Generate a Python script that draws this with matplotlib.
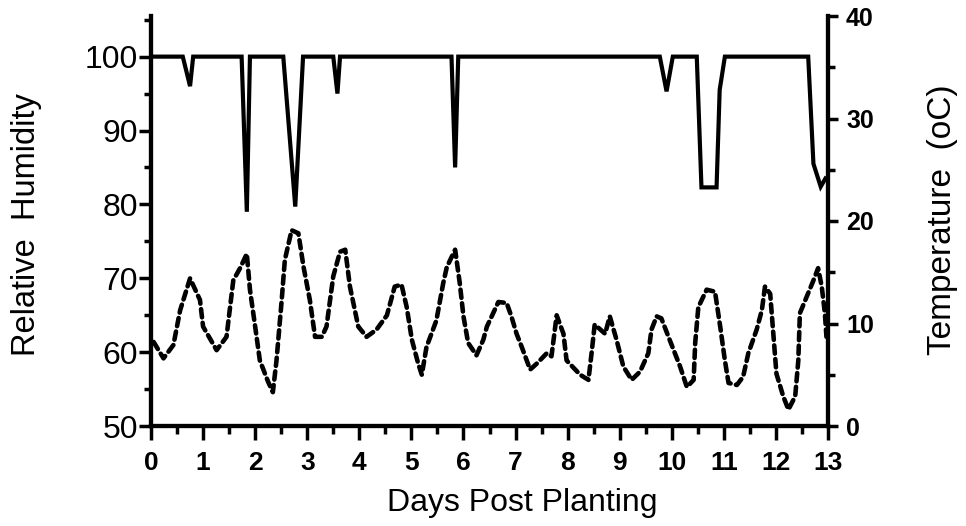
import matplotlib
matplotlib.use("Agg")
import matplotlib.pyplot as plt
from matplotlib.ticker import MultipleLocator

plt.rcParams['font.family'] = ['Liberation Sans', 'DejaVu Sans']

# relative humidity (left axis, solid)
rh_days = [0, 0.61, 0.75, 0.81, 1.74, 1.84, 1.90, 2.54, 2.77, 2.92, 3.50, 3.58, 3.63,
           5.77, 5.84, 5.90, 9.77, 9.90, 10.02, 10.48, 10.57, 10.86, 10.92, 11.02,
           12.62, 12.72, 12.86, 12.95]
rh_vals = [100, 100, 96, 100, 100, 79, 100, 100, 79.7, 100, 100, 95, 100,
           100, 85, 100, 100, 95.3, 100, 100, 82.3, 82.3, 95.5, 100,
           100, 85.5, 82.4, 83.5]

# air temperature (right axis, dashed)
t_days = [0.05, 0.24, 0.43, 0.56, 0.75, 0.94, 1.00, 1.26, 1.45, 1.58, 1.71, 1.84,
          1.90, 2.00, 2.09, 2.25, 2.34, 2.41, 2.51, 2.57, 2.70, 2.83, 2.93, 3.05,
          3.15, 3.28, 3.37, 3.50, 3.63, 3.73, 3.82, 3.98, 4.14, 4.33, 4.53, 4.68,
          4.81, 4.91, 5.01, 5.13, 5.20, 5.29, 5.48, 5.61, 5.68, 5.84, 5.93, 6.00,
          6.09, 6.25, 6.38, 6.45, 6.57, 6.67, 6.83, 6.92, 7.02, 7.12, 7.28, 7.41,
          7.60, 7.69, 7.79, 7.92, 7.98, 8.24, 8.40, 8.46, 8.52, 8.72, 8.81, 8.94,
          9.07, 9.23, 9.39, 9.55, 9.61, 9.71, 9.80, 9.96, 10.16, 10.29, 10.42,
          10.45, 10.51, 10.67, 10.83, 10.93, 11.02, 11.09, 11.25, 11.37, 11.47,
          11.63, 11.73, 11.79, 11.89, 11.95, 12.01, 12.14, 12.24, 12.37, 12.43,
          12.46, 12.59, 12.72, 12.81, 12.88, 12.94, 12.97]
t_vals = [8.2, 6.6, 7.9, 11.3, 14.4, 12.3, 9.7, 7.4, 8.7, 14.2, 15.4, 16.8,
          13.3, 9.7, 6.4, 4.3, 3.3, 6.4, 12.3, 16.2, 19.1, 18.8, 15.5, 12.3,
          8.7, 8.7, 9.7, 14.6, 17.0, 17.2, 13.6, 9.7, 8.7, 9.4, 10.8, 13.6,
          13.8, 11.6, 8.4, 6.1, 5.0, 7.7, 10.3, 13.9, 15.5, 17.2, 13.9, 10.7,
          8.1, 6.9, 8.4, 9.7, 11.0, 12.1, 12.0, 10.7, 9.0, 7.7, 5.5, 6.1,
          7.1, 6.8, 10.8, 9.0, 6.4, 5.0, 4.5, 7.1, 9.9, 9.0, 10.7, 8.4,
          5.8, 4.5, 5.3, 7.1, 9.4, 10.7, 10.5, 8.4, 5.8, 3.8, 4.5,
          8.1, 11.6, 13.3, 13.1, 9.7, 6.4, 4.2, 4.0, 4.8, 7.1,
          9.4, 11.3, 13.6, 12.9, 9.0, 5.1, 2.9, 1.6, 2.9, 6.4,
          11.0, 12.6, 14.2, 15.4, 13.6, 11.0, 8.7]

fig = plt.figure(figsize=(9.66, 5.26), dpi=100)
ax = fig.add_axes([151 / 966, 1 - 426 / 526, 677 / 966, 410 / 526])
ax2 = ax.twinx()

ax.plot(rh_days, rh_vals, color='black', lw=3.0, solid_joinstyle='miter')
ax2.plot(t_days, t_vals, color='black', lw=3.3, dashes=(1.8, 1.2),
         dash_capstyle='round')

ax.set_xlim(0, 13)
ax.set_ylim(50, 105.5)
ax2.set_ylim(0, 40)

for a in (ax, ax2):
    a.spines['top'].set_visible(False)
    for s in a.spines.values():
        s.set_linewidth(3)

ax.xaxis.set_major_locator(MultipleLocator(1))
ax.xaxis.set_minor_locator(MultipleLocator(0.5))
ax.yaxis.set_major_locator(MultipleLocator(10))
ax.yaxis.set_minor_locator(MultipleLocator(5))
ax2.yaxis.set_major_locator(MultipleLocator(10))
ax2.yaxis.set_minor_locator(MultipleLocator(5))

ax.tick_params(axis='x', which='major', direction='out', length=10, width=2.5,
               labelsize=19, pad=8)
ax.tick_params(axis='x', which='minor', direction='out', length=6, width=2.5)
ax.tick_params(axis='y', which='major', direction='out', length=9, width=2.5,
               labelsize=23, pad=0.5)
ax.tick_params(axis='y', which='minor', direction='out', length=5, width=2.5)
ax2.tick_params(axis='y', which='major', direction='out', length=7, width=2.5,
                labelsize=18, pad=6)
ax2.tick_params(axis='y', which='minor', direction='out', length=5, width=2.5)

for lab in ax.get_xticklabels() + ax2.get_yticklabels():
    lab.set_fontweight('bold')

fig.text(522 / 966, 1 - 503 / 526, 'Days Post Planting', fontsize=23,
         ha='center', va='center')
fig.text(27 / 966, 1 - 225 / 526, 'Relative  Humidity', fontsize=23.5,
         rotation=90, ha='center', va='center')
fig.text(942 / 966, 1 - 220 / 526, 'Temperature  (oC)', fontsize=24,
         rotation=90, ha='center', va='center')

fig.savefig('out.png', dpi=100)
